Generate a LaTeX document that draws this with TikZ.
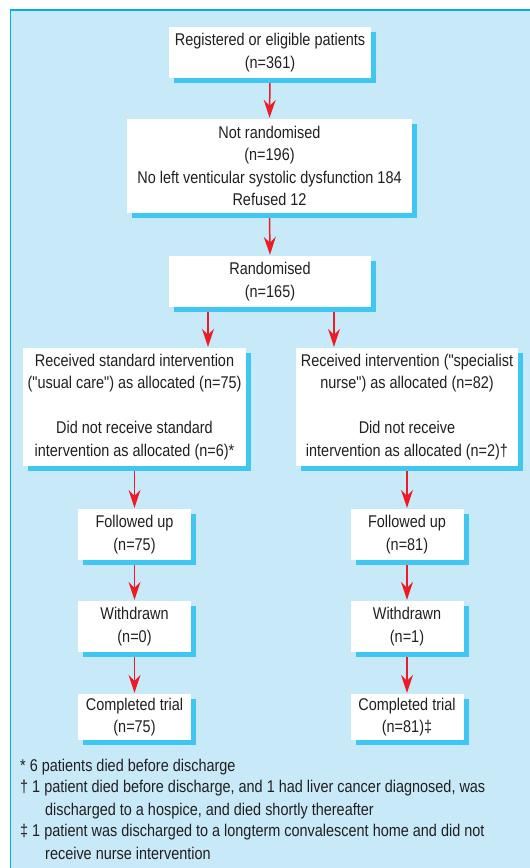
\documentclass[tikz,border=0pt]{standalone}
\usepackage{fontspec}
\setmainfont[FakeStretch=0.85,Ligatures=TeXOff]{Liberation Sans}
\usetikzlibrary{arrows.meta,shadows}
\definecolor{panelblue}{RGB}{199,233,248}
\definecolor{framecyan}{RGB}{0,174,239}
\definecolor{shadowcyan}{RGB}{64,198,242}
\definecolor{arrowred}{RGB}{237,28,36}
\definecolor{inkgrey}{RGB}{35,31,32}

\begin{document}
\begin{tikzpicture}[x=1pt,y=-1pt,
    font=\fontsize{17}{22.5}\selectfont,
    box/.style={fill=white,text=inkgrey,align=center,inner sep=0pt,
      drop shadow={shadow xshift=5pt,shadow yshift=-5pt,fill=shadowcyan,opacity=1}},
    arr/.style={arrowred,line width=1.5pt,shorten <=5pt,shorten >=1pt,
      -{Stealth[length=18pt,width=12pt,inset=6pt]}},
    note/.style={text=inkgrey,align=left,anchor=north west,inner sep=0pt}]
  \useasboundingbox (0,0) rectangle (530,868);
  \draw[framecyan,line width=1.5pt,fill=panelblue] (10.5,10) rectangle (560,900);
  % enrolment
  \node[box,minimum width=202pt,minimum height=51pt] (reg) at (270,52.5)
    {Registered or eligible patients\\(n=361)};
  \node[box,minimum width=285pt,minimum height=94pt] (notrand) at (269.5,166)
    {Not randomised\\(n=196)\\No left venticular systolic dysfunction 184\\Refused 12};
  \node[box,minimum width=202pt,minimum height=51pt] (rand) at (270,281.5)
    {Randomised\\(n=165)};
  % allocation
  \node[box,minimum width=223pt,minimum height=118pt] (usualcare) at (134.5,407)
    {Received standard intervention\\("usual care") as allocated (n=75)\\[22.5pt]
     Did not receive standard\\intervention as allocated (n=6)*};
  \node[box,minimum width=222pt,minimum height=118pt] (specnurse) at (407,407)
    {Received intervention ("specialist\\nurse") as allocated (n=82)\\[22.5pt]
     Did not receive\\intervention as allocated (n=2)†};
  % follow up, one column per arm
  \foreach \side/\x/\nfu/\nwdr/\ndone in {L/134.5/75/0/{(n=75)}, R/407/81/1/{(n=81)‡}} {
    \node[box,minimum width=113pt,minimum height=51pt] (fu\side) at (\x,534.5)
      {Followed up\\(n=\nfu)};
    \node[box,minimum width=113pt,minimum height=51pt] (wd\side) at (\x,626.5)
      {Withdrawn\\(n=\nwdr)};
    \node[box,minimum width=113pt,minimum height=46pt] (done\side) at (\x,717)
      {Completed trial\\\ndone};
  }
  \draw[arr] (reg.south) -- (notrand.north);
  \draw[arr] (notrand.south) -- (rand.north);
  \draw[arr] ([xshift=-62pt]rand.south) -- ([xshift=-62pt]rand.south |- usualcare.north);
  \draw[arr] ([xshift=64pt]rand.south) -- ([xshift=64pt]rand.south |- specnurse.north);
  \foreach \side/\top in {L/usualcare, R/specnurse} {
    \draw[arr] (\top.south) -- (fu\side.north);
    \draw[arr] (fu\side.south) -- (wd\side.north);
    \draw[arr] (wd\side.south) -- (done\side.north);
  }
  % footnotes
  \node[note] (noteA) at (20,759) {* 6 patients died before discharge};
  \node[note] (noteB) at (20,780)
    {† 1 patient died before discharge, and 1 had liver cancer diagnosed, was\\
     \hspace*{25pt}discharged to a hospice, and died shortly thereafter};
  \node[note] (noteC) at (20,824)
    {‡ 1 patient was discharged to a longterm convalescent home and did not\\
     \hspace*{25pt}receive nurse intervention};
\end{tikzpicture}
\end{document}
